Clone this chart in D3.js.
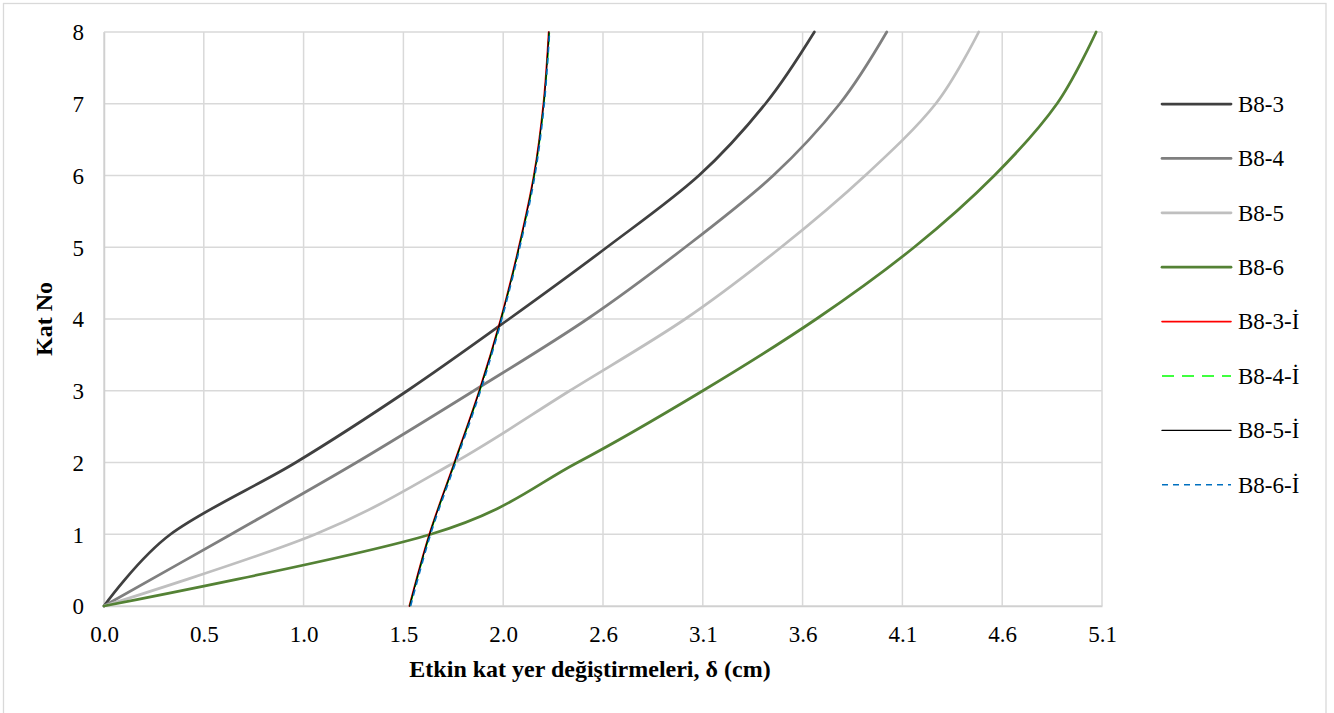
<!DOCTYPE html>
<html>
<head>
<meta charset="utf-8">
<script src="https://cdn.jsdelivr.net/npm/d3@7"></script>
<style>
  html, body { margin: 0; padding: 0; background: #fff; }
  svg { display: block; }
  text { font-family: "Liberation Serif", "Times New Roman", Times, serif; fill: #000; }
</style>
</head>
<body>
<svg id="chart" width="1334" height="713"></svg>
<script>
// ---- data ----
const floors = [0, 1, 2, 3, 4, 5, 6, 7, 8];
const seriesNames = ["B8-3", "B8-4", "B8-5", "B8-6", "B8-3-İ", "B8-4-İ", "B8-5-İ", "B8-6-İ"];
const b83 = [0, 0.34, 0.98, 1.55, 2.07, 2.57, 3.04, 3.38, 3.63];
const b84 = [0, 0.65, 1.29, 1.89, 2.47, 2.97, 3.42, 3.76, 4.00];
const b85 = [0, 1.08, 1.79, 2.38, 2.97, 3.46, 3.89, 4.25, 4.47];
const b86 = [0, 1.67, 2.42, 3.06, 3.64, 4.14, 4.55, 4.87, 5.07];
const b83i = [1.560, 1.662, 1.790, 1.917, 2.027, 2.119, 2.196, 2.245, 2.272];
const b84i = [1.563, 1.665, 1.793, 1.920, 2.030, 2.122, 2.199, 2.248, 2.276];
const b85i = [1.562, 1.664, 1.792, 1.919, 2.029, 2.121, 2.198, 2.247, 2.274];
const b86i = [1.567, 1.669, 1.797, 1.924, 2.033, 2.125, 2.202, 2.250, 2.277];
const xTickValues = [0, 0.51, 1.02, 1.53, 2.04, 2.55, 3.06, 3.57, 4.08, 4.59, 5.1];
const xTickLabels = ["0.0", "0.5", "1.0", "1.5", "2.0", "2.6", "3.1", "3.6", "4.1", "4.6", "5.1"];
const yTickValues = [0, 1, 2, 3, 4, 5, 6, 7, 8];
const xTitle = "Etkin kat yer değiştirmeleri, δ (cm)";
const yTitle = "Kat No";

const seriesValues = [b83, b84, b85, b86, b83i, b84i, b85i, b86i];
const styles = [
  { color: "#404040", width: 2.75, dash: null },
  { color: "#7f7f7f", width: 2.75, dash: null },
  { color: "#bfbfbf", width: 2.75, dash: null },
  { color: "#548235", width: 2.75, dash: null },
  { color: "#ff0000", width: 1.6, dash: null },
  { color: "#00ff00", width: 1.6, dash: "12,8" },
  { color: "#000000", width: 1.3, dash: null },
  { color: "#0070c0", width: 1.6, dash: "6,5" }
];

// ---- layout ----
const svg = d3.select("#chart");
const L = 104, R = 1102, T = 32, B = 606;
const x = d3.scaleLinear().domain([0, 5.1]).range([L, R]);
const y = d3.scaleLinear().domain([0, 8]).range([B, T]);
const FONT = "'Liberation Serif', 'Times New Roman', Times, serif";

// outer chart border
svg.append("rect").attr("x", 3.5).attr("y", 3.5).attr("width", 1322.5).attr("height", 730)
  .attr("fill", "none").attr("stroke", "#d9d9d9").attr("stroke-width", 1.3);

// gridlines
const grid = svg.append("g");
grid.selectAll("line.v").data(xTickValues).enter().append("line")
  .attr("x1", d => x(d)).attr("x2", d => x(d)).attr("y1", T).attr("y2", B)
  .attr("stroke", "#d9d9d9").attr("stroke-width", 1.5);
grid.selectAll("line.h").data(yTickValues).enter().append("line")
  .attr("x1", L).attr("x2", R).attr("y1", d => y(d)).attr("y2", d => y(d))
  .attr("stroke", "#d9d9d9").attr("stroke-width", 1.5);

// axes
const xAxis = d3.axisBottom(x).tickValues(xTickValues)
  .tickFormat((d, i) => xTickLabels[i]).tickSize(0).tickPadding(0);
const gx = svg.append("g").attr("transform", `translate(0,${B})`).call(xAxis)
  .attr("font-family", FONT);
gx.select(".domain").attr("stroke", "#d0d0d0").attr("stroke-width", 1.5);
gx.selectAll("text").attr("font-size", 23).attr("dy", null).attr("y", 36);

const yAxis = d3.axisLeft(y).tickValues(yTickValues).tickFormat(d3.format("d")).tickSize(0).tickPadding(20);
const gy = svg.append("g").attr("transform", `translate(${L},0)`).call(yAxis)
  .attr("font-family", FONT);
gy.select(".domain").attr("stroke", "#d0d0d0").attr("stroke-width", 1.5);
gy.selectAll("text").attr("font-size", 23).attr("dy", "0.34em");

// titles
svg.append("text").attr("x", 590).attr("y", 677).attr("text-anchor", "middle")
  .attr("font-size", 24).attr("font-weight", "bold").text(xTitle);
svg.append("text").attr("transform", "translate(52,319) rotate(-90)").attr("text-anchor", "middle")
  .attr("font-size", 24).attr("font-weight", "bold").text(yTitle);

// series lines
const line = d3.line()
  .x(d => x(d.v)).y(d => y(d.k))
  .curve(d3.curveCardinal.tension(0));

const plot = svg.append("g");
seriesValues.forEach((vals, si) => {
  const pts = vals.map((v, i) => ({ v: v, k: floors[i] }));
  const st = styles[si];
  plot.append("path").datum(pts)
    .attr("d", line)
    .attr("fill", "none")
    .attr("stroke", st.color)
    .attr("stroke-width", st.width)
    .attr("stroke-dasharray", st.dash)
    .attr("stroke-linejoin", "round")
    .attr("stroke-linecap", st.dash ? "butt" : "round");
});

// legend
const leg = svg.append("g");
const legY0 = 104, legStep = 54.4;
seriesNames.forEach((name, i) => {
  const st = styles[i];
  const yy = legY0 + i * legStep;
  leg.append("line").attr("x1", 1162).attr("x2", 1231).attr("y1", yy).attr("y2", yy)
    .attr("stroke", st.color).attr("stroke-width", st.width)
    .attr("stroke-dasharray", st.dash)
    .attr("stroke-linecap", st.dash ? "butt" : "round");
  leg.append("text").attr("x", 1238).attr("y", yy).attr("dy", "0.34em")
    .attr("font-size", 23).text(name);
});
</script>
</body>
</html>
